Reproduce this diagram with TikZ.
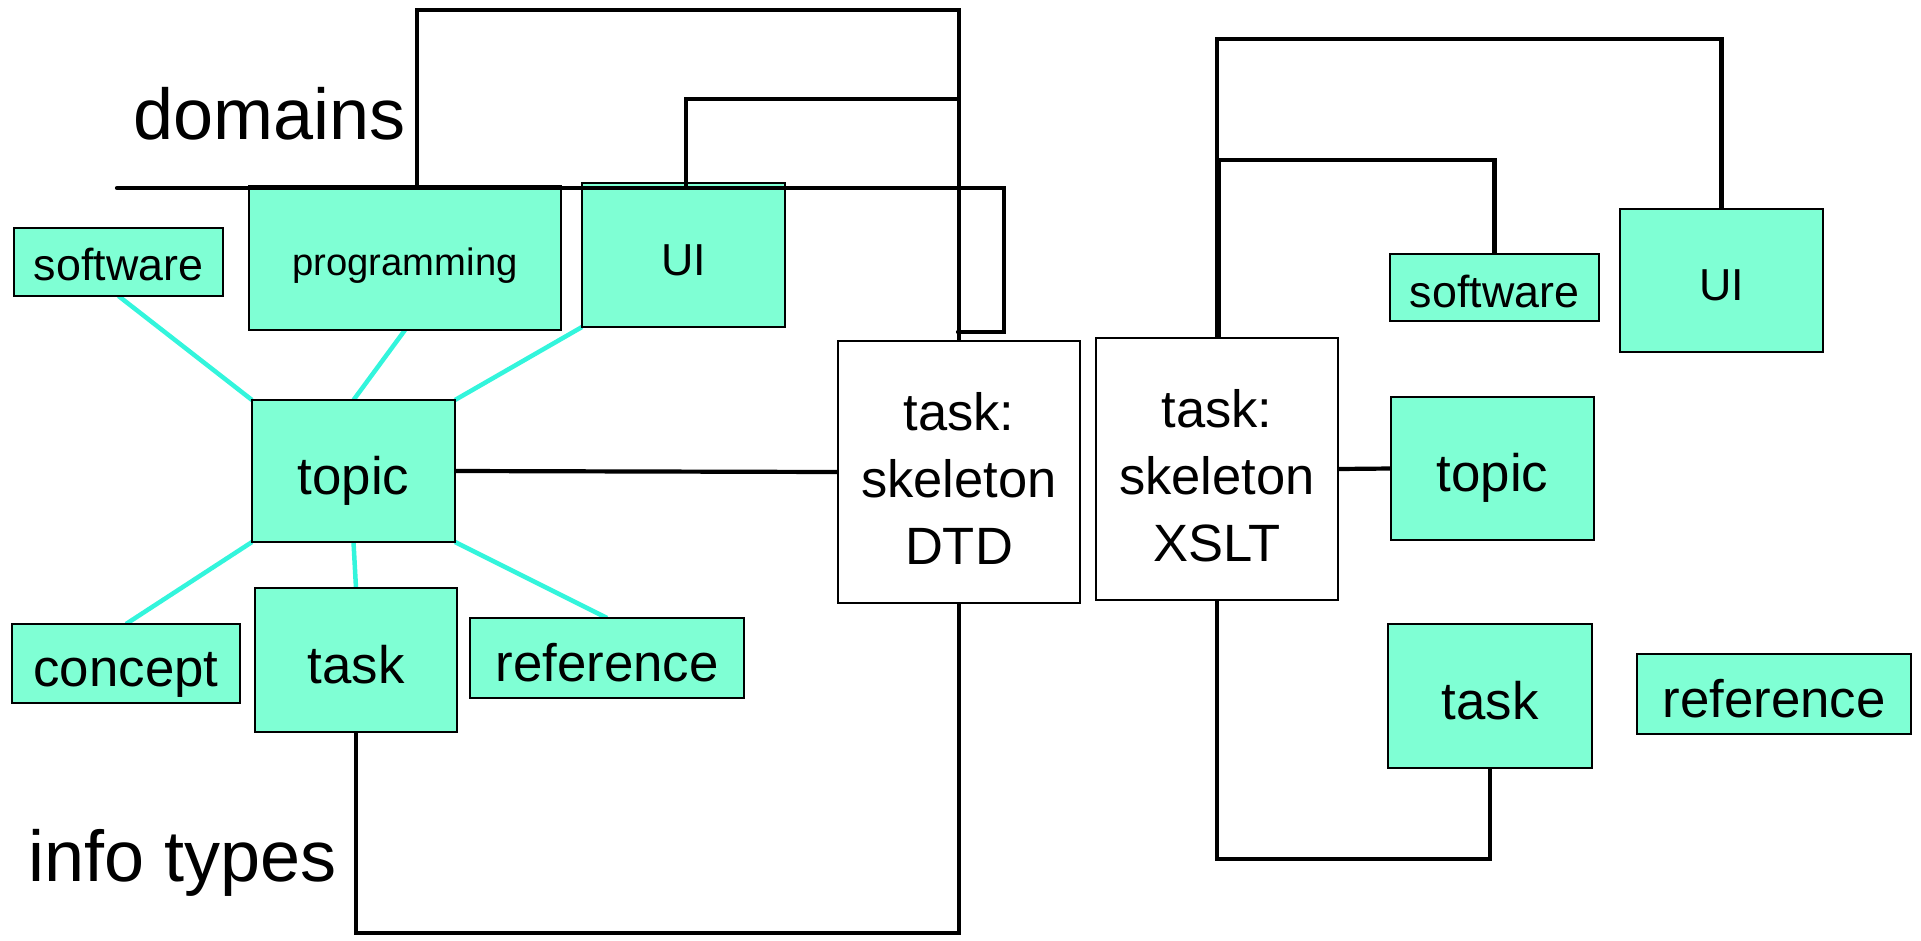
\documentclass[tikz,border=0pt]{standalone}
\usepackage{fontspec}
\setmainfont{Liberation Sans}
\usetikzlibrary{backgrounds}
\definecolor{boxfill}{RGB}{127,255,212}
\definecolor{linkcyan}{RGB}{51,245,220}
\tikzset{
  box/.style={draw=black, line width=2pt, fill=boxfill, rectangle, inner sep=0pt,
    outer sep=0pt, text height=46pt, text depth=0pt, font=\fontsize{52.8}{67}\selectfont},
  plainbox/.style={box, fill=white, align=center, text height=184pt,
    font=\fontsize{52.5}{67}\selectfont},
  smalltext/.style={text height=40pt, font=\fontsize{44.8}{54}\selectfont},
  progtext/.style={text height=34pt, font=\fontsize{38.2}{46}\selectfont},
  heading/.style={inner sep=0pt, anchor=base west, font=\fontsize{72}{86}\selectfont},
  wire/.style={draw=black, line width=4.2pt},
  spoke/.style={draw=linkcyan, line width=4.5pt},
}
\begin{document}
\begin{tikzpicture}[x=1pt,y=-1pt]
\useasboundingbox (0,0) rectangle (1921,940);

% headings
\node[heading] (domains) at (133,139) {domains};
\node[heading] (infotypes) at (28,881) {info types};

% left cluster: domains and info types around topic
\node[box, smalltext, text height=36pt, minimum width=209pt, minimum height=68pt] (swL) at (118.5,262) {software};
\node[box, progtext, minimum width=312pt, minimum height=144pt] (prog) at (405,258) {programming};
\node[box, smalltext, minimum width=203pt, minimum height=144pt] (uiL) at (683.5,255) {UI};
\node[box, minimum width=203pt, minimum height=142pt] (topicL) at (353.5,471) {topic};
\node[box, minimum width=228pt, minimum height=79pt] (concept) at (126,663.5) {concept};
\node[box, minimum width=202pt, minimum height=144pt] (taskL) at (356,660) {task};
\node[box, minimum width=274pt, minimum height=80pt] (refL) at (607,658) {reference};

% the two skeleton tasks
\node[plainbox, minimum width=242pt, minimum height=262pt] (dtd) at (959,472) {task:\\skeleton\\DTD};
\node[plainbox, minimum width=242pt, minimum height=262pt] (xslt) at (1217,469) {task:\\skeleton\\XSLT};

% right cluster
\node[box, smalltext, minimum width=209pt, minimum height=67pt] (swR) at (1494.5,287.5) {software};
\node[box, smalltext, minimum width=203pt, minimum height=143pt] (uiR) at (1721.5,280.5) {UI};
\node[box, minimum width=203pt, minimum height=143pt] (topicR) at (1492.5,468.5) {topic};
\node[box, minimum width=204pt, minimum height=144pt] (taskR) at (1490,696) {task};
\node[box, minimum width=274pt, minimum height=80pt] (refR) at (1774,694) {reference};

% specialisation spokes around topic
\begin{scope}[on background layer]
  \draw[spoke] (swL.south) -- (topicL.north west);
  \draw[spoke] (prog.south) -- (topicL.north);
  \draw[spoke] (uiL.south west) -- (topicL.north east);
  \draw[spoke] (topicL.south west) -- (concept.north);
  \draw[spoke] (topicL.south) -- (taskL.north);
  \draw[spoke] (topicL.south east) -- (refL.north);
\end{scope}

% free ends of the wires
\coordinate (pTop) at (417,10);
\coordinate (pEnd) at (417,188);
\coordinate (uTop) at (686,99);
\coordinate (uEnd) at (686,188);
\coordinate (sepL) at (117,188);
\coordinate (sepR) at (1004,188);
\coordinate (sepD) at (958,332);
\coordinate (lowL) at (600,933);
\coordinate (rTop) at (1500,39);
\coordinate (sTop) at (1350,160);
\coordinate (rLow) at (1350,859);

% DTD wiring
\draw[wire] (topicL.east) -- (dtd.west);
\draw[wire] (taskL.south) |- (lowL) -| (dtd.south);
\draw[wire] (dtd.north) |- (pTop) -- (pEnd);
\draw[wire] (uEnd) -- (uTop) -- (uTop -| dtd.north);
\draw[wire, line cap=round] (sepL) -- (sepR) |- (sepD);

% XSLT wiring
\draw[wire] (xslt.north) |- (rTop) -| (uiR.north);
\draw[wire] ([xshift=2pt]xslt.north) |- (sTop) -| (swR.north);
\draw[wire] (xslt.east) -- (topicR.west);
\draw[wire] (xslt.south) |- (rLow) -| (taskR.south);
\end{tikzpicture}
\end{document}
